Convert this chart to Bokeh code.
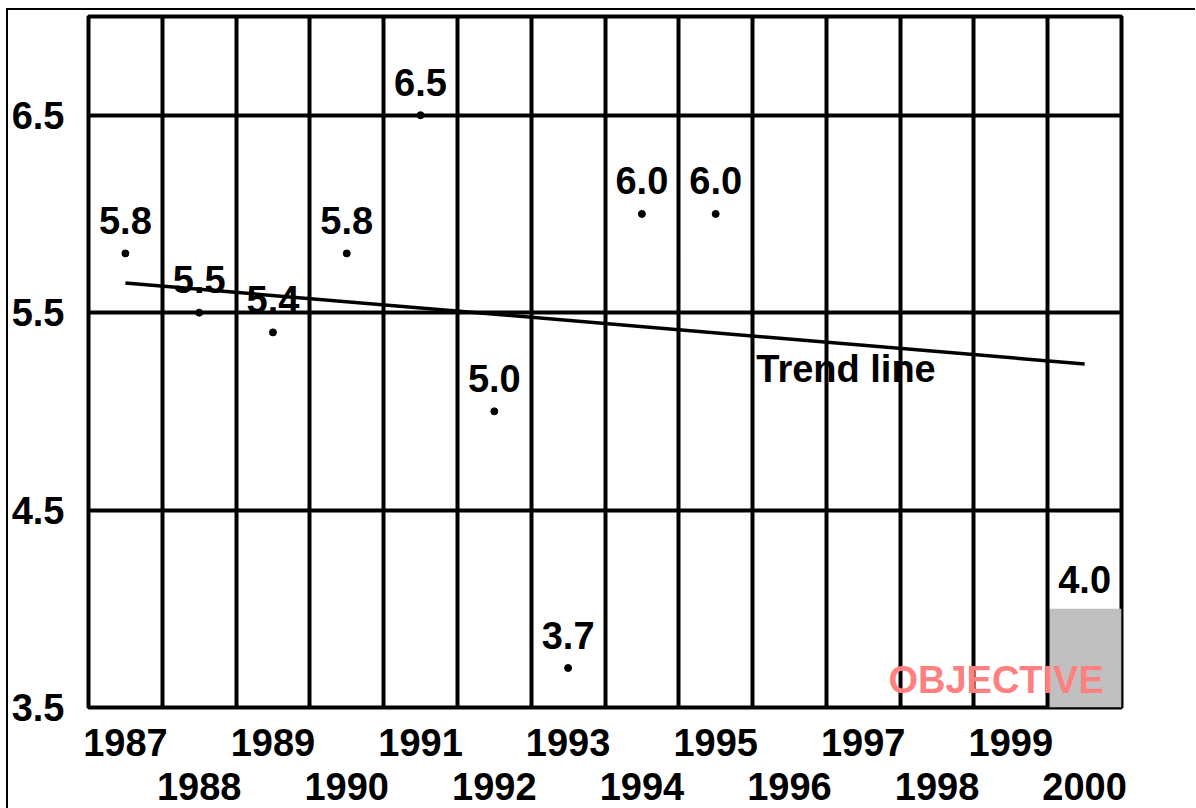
from bokeh.plotting import figure
from bokeh.models import FixedTicker, LinearAxis, Range1d
from bokeh.core.properties import value
from bokeh.embed import file_html
from bokeh.resources import INLINE

# ---- data ----
years = [1987, 1988, 1989, 1990, 1991, 1992, 1993, 1994, 1995]
rates = [5.8, 5.5, 5.4, 5.8, 6.5, 5.0, 3.7, 6.0, 6.0]
rate_labels = [f"{v:.1f}" for v in rates]

objective_year = [2000]
objective_value = [4.0]
objective_labels = ["4.0"]

trend_years = [1987, 2000]
trend_values = [5.65, 5.24]

odd_years = [1987, 1989, 1991, 1993, 1995, 1997, 1999]
even_years = [1988, 1990, 1992, 1994, 1996, 1998, 2000]
y_ticks = [3.5, 4.5, 5.5, 6.5]

FONT = "Liberation Sans"
FS = "38px"

p = figure(
    frame_width=1033, frame_height=691,
    min_border_left=77, min_border_top=6, min_border_right=74, min_border_bottom=101,
    x_range=Range1d(1986.5, 2000.5), y_range=Range1d(3.5, 7.0),
    output_backend="svg", toolbar_location=None,
    background_fill_color="white", border_fill_color="white",
)
p.styles = {"border-top": "2px solid black", "border-left": "2px solid black",
            "margin-left": "6px", "margin-top": "8px"}

p.outline_line_color = "black"
p.outline_line_width = 4
p.outline_line_alpha = 1.0

# grids
p.xgrid.ticker = FixedTicker(ticks=[y + 0.5 for y in range(1986, 2000)])
p.ygrid.ticker = FixedTicker(ticks=y_ticks)
for g in (p.xgrid[0], p.ygrid[0]):
    g.grid_line_color = "black"
    g.grid_line_width = 4
    g.grid_line_alpha = 1.0

# y axis
ya = p.yaxis[0]
ya.ticker = FixedTicker(ticks=y_ticks)
ya.major_label_text_font = FONT
ya.major_label_text_font_style = "bold"
ya.major_label_text_font_size = FS
ya.major_label_text_color = "black"
ya.major_label_standoff = 24
ya.major_tick_out = 0
ya.major_tick_in = 0
ya.minor_tick_out = 0
ya.minor_tick_in = 0
ya.axis_line_color = None

# x axes (two rows)
xa1 = p.xaxis[0]
xa1.ticker = FixedTicker(ticks=odd_years)
xa2 = LinearAxis(ticker=FixedTicker(ticks=even_years))
p.add_layout(xa2, "below")
for ax, so in ((xa1, 21), (xa2, 14)):
    ax.major_label_text_font = FONT
    ax.major_label_text_font_style = "bold"
    ax.major_label_text_font_size = FS
    ax.major_label_text_color = "black"
    ax.major_label_standoff = so
    ax.major_tick_out = 0
    ax.major_tick_in = 0
    ax.minor_tick_out = 0
    ax.minor_tick_in = 0
    ax.axis_line_color = None

# objective bar
bar = p.vbar(x=objective_year, width=1.0, bottom=3.5, top=objective_value,
             fill_color="#c0c0c0", line_color=None)
bar.level = "image"

# trend line
p.line(trend_years, trend_values, line_color="black", line_width=3.5)

# points
p.scatter(years, rates, size=7, color="black")

# value labels
p.text(years, rates, text=rate_labels, text_align="center", text_baseline="alphabetic",
       y_offset=-33, text_font=value(FONT), text_font_style="bold",
       text_font_size=FS, text_color="black")
p.text(objective_year, objective_value, text=objective_labels, text_align="center",
       text_baseline="alphabetic", y_offset=-29, text_font=value(FONT),
       text_font_style="bold", text_font_size=FS, text_color="black")

# annotations
p.text([1995.55], [5.15], text=["Trend line"], text_align="left", text_baseline="alphabetic",
       y_offset=-13,
       text_font=value(FONT), text_font_style="bold", text_font_size=FS, text_color="black")
p.text([2000.26], [3.571], text=["OBJECTIVE"], text_align="right", text_baseline="alphabetic",
       y_offset=-13,
       text_font=value(FONT), text_font_style="bold", text_font_size=FS, text_color="#ff8080")

open("out.html", "w").write(file_html(p, INLINE))
